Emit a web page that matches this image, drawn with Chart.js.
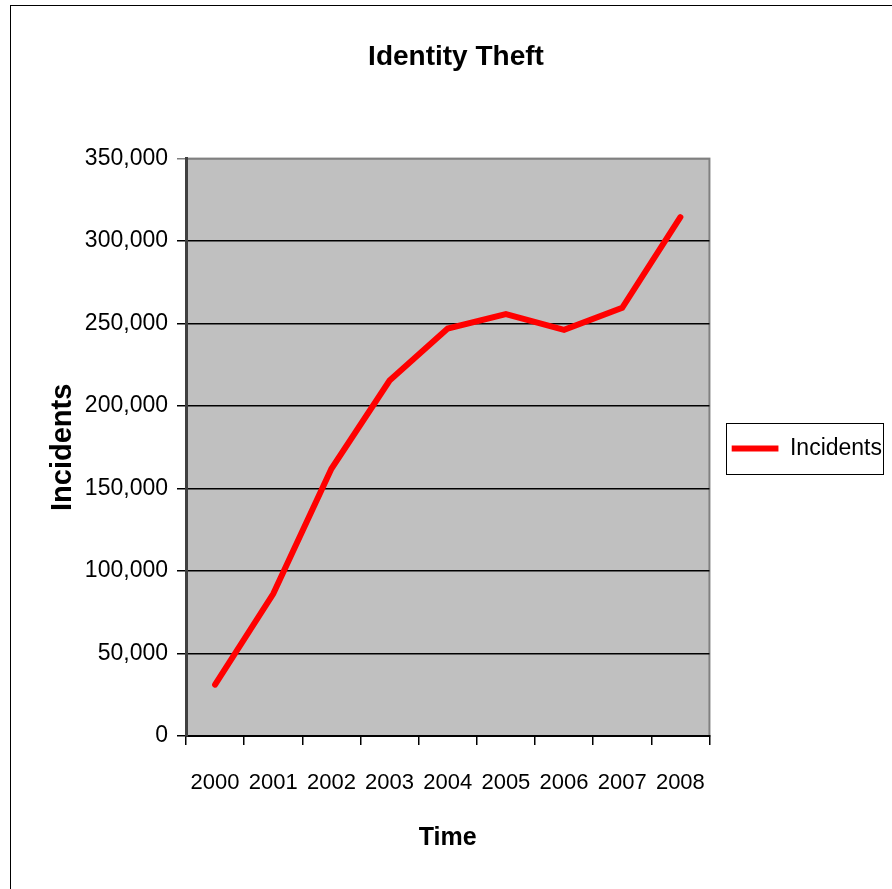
<!DOCTYPE html>
<html lang="en">
<head>
<meta charset="UTF-8">
<script src="https://cdn.jsdelivr.net/npm/chart.js@4.4.1/dist/chart.umd.min.js"></script>
<title>identity theft</title>
<style>
    html, body { margin: 0; padding: 0; background: #fff; overflow: hidden; }
    #wrap { position: relative; width: 892px; height: 889px; }
    #frame { position: absolute; left: 10px; top: 5px; width: 900px; height: 900px; border: 1.5px solid #000; box-sizing: border-box; }
    canvas { position: absolute; left: 0; top: 0; }
</style>
</head>
<body>
<div id="wrap">
    <div id="frame"></div>
    <canvas id="chart" width="892" height="889"></canvas>
</div>
<script>
    // data
    const years = ['2000', '2001', '2002', '2003', '2004', '2005', '2006', '2007', '2008'];
    const incidents = [31100, 86200, 162000, 215500, 247000, 255700, 246200, 259500, 314500];
    const yTicks = [0, 50000, 100000, 150000, 200000, 250000, 300000, 350000];

    const FONT = "'Liberation Sans', Arial, sans-serif";

    // grey plot area with its frame
    const plotBg = {
        id: 'plotBg',
        beforeDraw(chart) {
            const { ctx, chartArea: a } = chart;
            ctx.save();
            ctx.fillStyle = '#c0c0c0';
            ctx.fillRect(a.left, a.top, a.right - a.left, a.bottom - a.top);
            ctx.strokeStyle = '#808080';
            ctx.lineWidth = 2;
            ctx.strokeRect(a.left, a.top, a.right - a.left, a.bottom - a.top);
            ctx.restore();
        }
    };

    // push the legend a little away from the plot
    const legendShift = {
        id: 'legendShift',
        afterLayout(chart) {
            const lg = chart.legend;
            lg.left += 22; lg.right += 22;
            lg.top += 4; lg.bottom += 4;
        }
    };

    // box round the legend
    const legendBox = {
        id: 'legendBox',
        afterDraw(chart) {
            const hb = chart.legend.legendHitBoxes[0];
            if (!hb) return;
            const ctx = chart.ctx;
            const cy = hb.top + hb.height / 2;
            ctx.save();
            ctx.strokeStyle = '#000';
            ctx.lineWidth = 1;
            ctx.strokeRect(Math.round(hb.left) - 4.5, Math.round(cy) - 25.5, Math.round(hb.width) + 6, 51);
            ctx.restore();
        }
    };

    new Chart(document.getElementById('chart'), {
        type: 'line',
        data: {
            labels: years,
            datasets: [{
                label: 'Incidents',
                data: incidents,
                borderColor: '#ff0000',
                backgroundColor: '#ff0000',
                borderWidth: 6,
                borderCapStyle: 'round',
                borderJoinStyle: 'miter',
                pointRadius: 0,
                pointStyle: 'line',
                tension: 0
            }]
        },
        options: {
            responsive: false,
            animation: false,
            layout: { padding: { left: 42, right: 22, top: 0, bottom: 0 } },
            plugins: {
                title: {
                    display: true,
                    text: 'Identity Theft',
                    color: '#000',
                    font: { family: FONT, size: 28, weight: 'bold' },
                    padding: { top: 40, bottom: 85 }
                },
                legend: {
                    position: 'right',
                    labels: {
                        usePointStyle: true,
                        pointStyleWidth: 47,
                        boxHeight: 6,
                        color: '#000',
                        font: { family: FONT, size: 23 },
                        padding: 0
                    }
                },
                tooltip: { enabled: false }
            },
            scales: {
                x: {
                    offset: true,
                    grid: { offset: true, drawOnChartArea: false, drawTicks: true, tickLength: 9, color: '#000', lineWidth: 1.5 },
                    border: { color: '#000', width: 2 },
                    ticks: { color: '#000', font: { family: FONT, size: 22 }, padding: 25, maxRotation: 0, autoSkip: false },
                    title: { display: true, text: 'Time', color: '#000', font: { family: FONT, size: 25, weight: 'bold' }, padding: { top: 0, bottom: 36 } },
                    afterFit(s) { s.height = 889 - 736; }
                },
                y: {
                    min: 0,
                    max: 350000,
                    afterBuildTicks(s) { s.ticks = yTicks.map(v => ({ value: v })); },
                    grid: {
                        color: c => (c.tick && c.tick.value === 350000 ? '#808080' : '#000'),
                        lineWidth: 1.5,
                        tickLength: 9,
                        drawTicks: true
                    },
                    border: { color: '#404040', width: 3 },
                    ticks: {
                        color: '#000',
                        font: { family: FONT, size: 23 },
                        padding: 9,
                        callback: v => v.toLocaleString('en-US')
                    },
                    title: { display: true, text: 'Incidents', color: '#000', font: { family: FONT, size: 29, weight: 'bold' }, padding: { top: 4, bottom: 0 } },
                    afterFit(s) { s.width = 186 - 42; }
                }
            }
        },
        plugins: [plotBg, legendShift, legendBox]
    });
</script>
</body>
</html>
